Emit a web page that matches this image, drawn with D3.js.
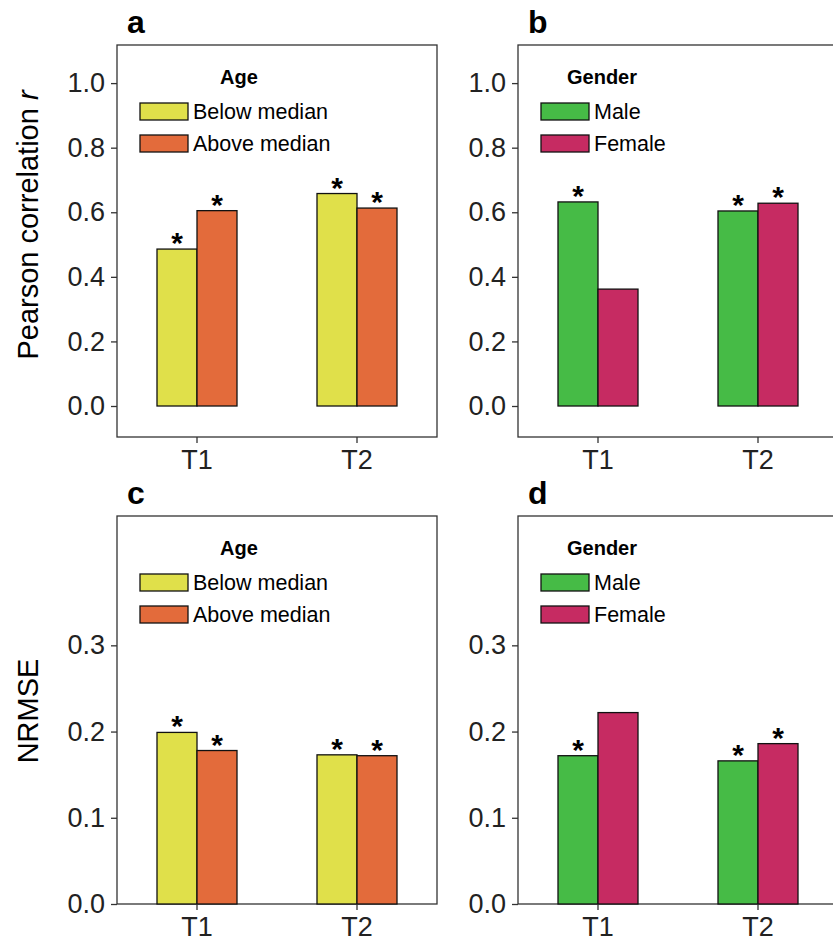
<!DOCTYPE html>
<html><head><meta charset="utf-8">
<script src="https://cdn.jsdelivr.net/npm/d3@7"></script>
<style>body{margin:0;background:#fff}text{font-family:"Liberation Sans",Arial,sans-serif}</style>
</head><body>
<script>
// data
var times = ["T1", "T2"];
var ageNames = ["Below median", "Above median"];
var genderNames = ["Male", "Female"];
var ageColors = ["#e0e04a", "#e36b3b"];
var genderColors = ["#46bb46", "#c62b62"];
var pearsonAge = [[0.486, 0.605], [0.658, 0.613]];
var pearsonAgeSig = [[true, true], [true, true]];
var pearsonGender = [[0.632, 0.362], [0.604, 0.628]];
var pearsonGenderSig = [[true, false], [true, true]];
var nrmseAge = [[0.199, 0.178], [0.173, 0.172]];
var nrmseAgeSig = [[true, true], [true, true]];
var nrmseGender = [[0.172, 0.222], [0.166, 0.186]];
var nrmseGenderSig = [[true, false], [true, true]];
var pearsonTicks = [0, 0.2, 0.4, 0.6, 0.8, 1.0];
var nrmseTicks = [0, 0.1, 0.2, 0.3];

var svg = d3.select("body").append("svg").attr("width", 833).attr("height", 939);

function panel(o) {
    var g = svg.append("g");
    var x = d3.scaleBand().domain(times).range([o.x0, o.x1]).paddingInner(0.5).paddingOuter(0.25);
    var sub = d3.scaleBand().domain([0, 1]).range([0, x.bandwidth()]);
    var y = d3.scaleLinear().domain(o.domain).range([o.y1, o.y0]);

    g.append("rect").attr("x", o.x0).attr("y", o.y0)
        .attr("width", o.x1 - o.x0).attr("height", o.y1 - o.y0)
        .attr("fill", "none").attr("stroke", "#333").attr("stroke-width", 1.3);

    times.forEach(function(t, i) {
        o.values[i].forEach(function(v, j) {
            var bx = x(t) + sub(j);
            g.append("rect").attr("x", bx).attr("y", y(v))
                .attr("width", sub.bandwidth()).attr("height", y(0) - y(v))
                .attr("fill", o.colors[j]).attr("stroke", "#111").attr("stroke-width", 1.3);
            if (o.sig[i][j]) {
                g.append("text").attr("x", bx + sub.bandwidth() / 2).attr("y", y(v) + 4)
                    .attr("text-anchor", "middle").attr("font-size", 30).attr("font-weight", "bold")
                    .text("*");
            }
        });
    });

    var ya = g.append("g").attr("transform", "translate(" + o.x0 + ",0)")
        .call(d3.axisLeft(y).tickValues(o.ticks).tickFormat(d3.format(".1f")).tickSize(6).tickSizeOuter(0));
    var xa = g.append("g").attr("transform", "translate(0," + o.y1 + ")")
        .call(d3.axisBottom(x).tickSize(6).tickSizeOuter(0));
    [ya, xa].forEach(function(a) {
        a.select(".domain").remove();
        a.selectAll("line").attr("stroke", "#333").attr("stroke-width", 1.3);
        a.selectAll("text").attr("font-size", 27).attr("fill", "#222")
            .attr("font-family", "Liberation Sans, Arial, sans-serif");
    });
    ya.selectAll("text").attr("x", -12);
    xa.selectAll("text").attr("dy", "0.85em");

    // legend
    var lx = o.x0 + 23, ly = o.y0 + 39;
    g.append("text").attr("x", o.titleX).attr("y", ly).attr("font-size", 20)
        .attr("font-weight", "bold").text(o.title);
    o.names.forEach(function(n, j) {
        g.append("rect").attr("x", lx).attr("y", ly + 19 + j * 32).attr("width", 48).attr("height", 17)
            .attr("fill", o.colors[j]).attr("stroke", "#111").attr("stroke-width", 1.3);
        g.append("text").attr("x", lx + 53).attr("y", ly + 35 + j * 32).attr("font-size", 21.5).text(n);
    });

    g.append("text").attr("x", o.x0 + 10).attr("y", o.y0 - 12).attr("font-size", 32)
        .attr("font-weight", "bold").text(o.letter);
}

panel({x0: 117, x1: 437, y0: 45, y1: 437, domain: [-0.096, 1.118], ticks: pearsonTicks,
    values: pearsonAge, sig: pearsonAgeSig, colors: ageColors, names: ageNames,
    title: "Age", titleX: 220, letter: "a"});
panel({x0: 518, x1: 838, y0: 45, y1: 437, domain: [-0.096, 1.118], ticks: pearsonTicks,
    values: pearsonGender, sig: pearsonGenderSig, colors: genderColors, names: genderNames,
    title: "Gender", titleX: 567, letter: "b"});
panel({x0: 117, x1: 437, y0: 516, y1: 904, domain: [0, 0.45], ticks: nrmseTicks,
    values: nrmseAge, sig: nrmseAgeSig, colors: ageColors, names: ageNames,
    title: "Age", titleX: 220, letter: "c"});
panel({x0: 518, x1: 838, y0: 516, y1: 904, domain: [0, 0.45], ticks: nrmseTicks,
    values: nrmseGender, sig: nrmseGenderSig, colors: genderColors, names: genderNames,
    title: "Gender", titleX: 567, letter: "d"});

// y labels
var yl = svg.append("text").attr("transform", "translate(38,225) rotate(-90)")
    .attr("text-anchor", "middle").attr("font-size", 29);
yl.append("tspan").text("Pearson correlation ");
yl.append("tspan").attr("font-style", "italic").text("r");
svg.append("text").attr("transform", "translate(38,711) rotate(-90)")
    .attr("text-anchor", "middle").attr("font-size", 29).text("NRMSE");
</script>
</body></html>
